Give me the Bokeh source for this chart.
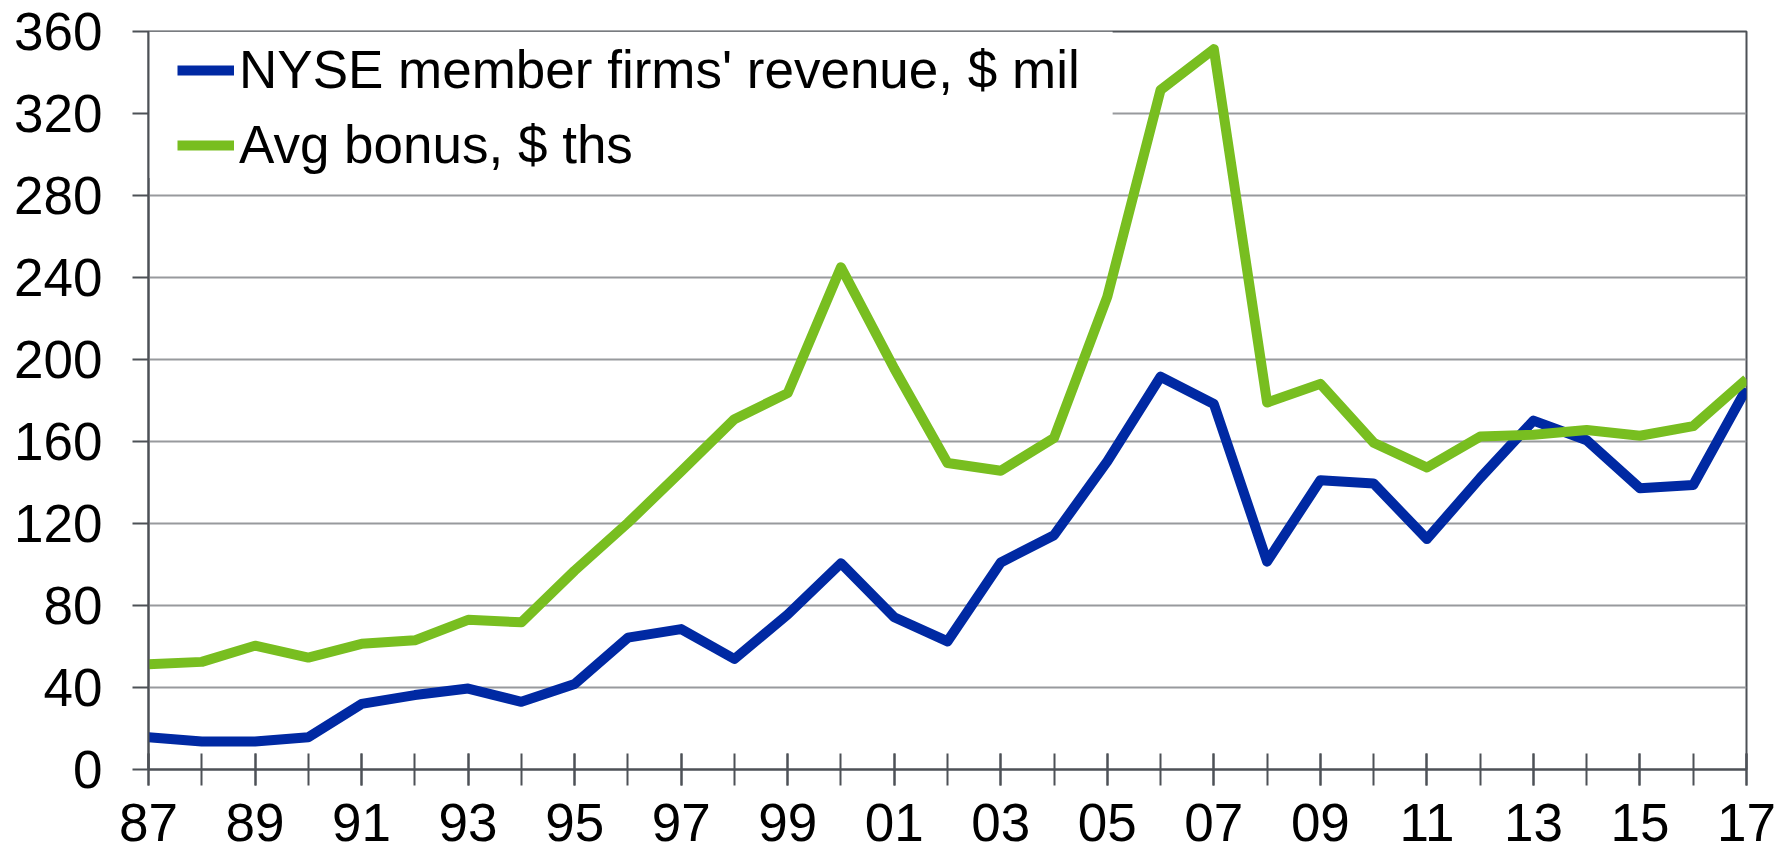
from bokeh.plotting import figure
from bokeh.models import FixedTicker, Legend, LegendItem, Range1d, BoxAnnotation
from bokeh.embed import file_html
from bokeh.resources import INLINE

years = [1987, 1988, 1989, 1990, 1991, 1992, 1993, 1994, 1995, 1996, 1997,
         1998, 1999, 2000, 2001, 2002, 2003, 2004, 2005, 2006, 2007, 2008,
         2009, 2010, 2011, 2012, 2013, 2014, 2015, 2016, 2017]

nyse_revenue = [15.7, 13.7, 13.7, 15.7, 32.0, 36.3, 39.5, 33.0, 41.7, 64.3, 68.5,
                53.9, 75.6, 100.6, 74.3, 62.5, 101.0, 114.3, 150.3, 191.6, 178.3, 101.4,
                141.1, 139.5, 112.4, 142.2, 170.2, 160.6, 137.2, 138.8, 185.8]

avg_bonus = [51.4, 52.5, 60.4, 54.6, 61.3, 63.0, 73.0, 71.8, 97.0, 120.3, 145.4,
             170.9, 183.6, 245.0, 195.6, 149.5, 145.7, 161.7, 230.6, 331.5, 351.4, 179.0,
             188.1, 159.4, 147.3, 162.4, 163.3, 165.6, 162.8, 167.5, 190.4]

label_years = [1987, 1989, 1991, 1993, 1995, 1997, 1999, 2001, 2003, 2005, 2007,
               2009, 2011, 2013, 2015, 2017]
x_tick_labels = ["87", "89", "91", "93", "95", "97", "99", "01", "03", "05", "07",
                 "09", "11", "13", "15", "17"]
y_ticks = [0, 40, 80, 120, 160, 200, 240, 280, 320, 360]

series_names = ["NYSE member firms' revenue, $ mil", "Avg bonus, $ ths"]

BLUE = "#0029A3"
GREEN = "#78BE20"
AXIS = "#4D5156"
GRID = "#989A9D"
FONT = "Liberation Sans"

p = figure(width=1785, height=854, output_backend="svg", toolbar_location=None,
           x_range=Range1d(1987, 2017), y_range=Range1d(0, 360),
           min_border_left=148, min_border_right=39, min_border_top=31,
           min_border_bottom=85, background_fill_color="white",
           border_fill_color="white")

p.outline_line_color = AXIS
p.outline_line_width = 2

r1 = p.line(years, nyse_revenue, line_color=BLUE, line_width=10, line_join="round")
r2 = p.line(years, avg_bonus, line_color=GREEN, line_width=10, line_join="round")

# x axis
xa = p.xaxis[0]
xa.ticker = FixedTicker(ticks=label_years, minor_ticks=years)
xa.major_label_overrides = {y: t for y, t in zip(label_years, x_tick_labels)}
xa.major_tick_in = 16
xa.major_tick_out = 16
xa.minor_tick_in = 16
xa.minor_tick_out = 16
xa.major_tick_line_color = AXIS
xa.minor_tick_line_color = AXIS
xa.major_tick_line_width = 2
xa.minor_tick_line_width = 2
xa.axis_line_color = AXIS
xa.axis_line_width = 2
xa.major_label_text_font = FONT
xa.major_label_text_font_size = "53px"
xa.major_label_text_color = "black"
xa.major_label_standoff = 18

# y axis
ya = p.yaxis[0]
ya.ticker = FixedTicker(ticks=y_ticks)
ya.major_tick_in = 0
ya.major_tick_out = 16
ya.minor_tick_line_color = None
ya.major_tick_line_color = AXIS
ya.major_tick_line_width = 2
ya.axis_line_color = AXIS
ya.axis_line_width = 2
ya.major_label_text_font = FONT
ya.major_label_text_font_size = "53px"
ya.major_label_text_color = "black"
ya.major_label_standoff = 30

p.xgrid.grid_line_color = None
p.ygrid.ticker = FixedTicker(ticks=y_ticks)
p.ygrid.grid_line_color = GRID
p.ygrid.grid_line_width = 2

# white legend panel hiding the gridlines behind the legend
legend_panel = BoxAnnotation(left=1987, right=2005.1, bottom=288.5, top=360,
                             fill_color="white", fill_alpha=1.0,
                             line_color=None, level="underlay")
p.add_layout(legend_panel)

legend = Legend(items=[LegendItem(label=series_names[0], renderers=[r1]),
                       LegendItem(label=series_names[1], renderers=[r2])],
                location=(29, 594), padding=0, spacing=14,
                glyph_width=57, glyph_height=20, label_standoff=5,
                label_text_font=FONT, label_text_font_size="53px",
                label_text_color="black",
                background_fill_alpha=0.0,
                border_line_color=None)
p.add_layout(legend)

open("out.html", "w").write(file_html(p, INLINE))
